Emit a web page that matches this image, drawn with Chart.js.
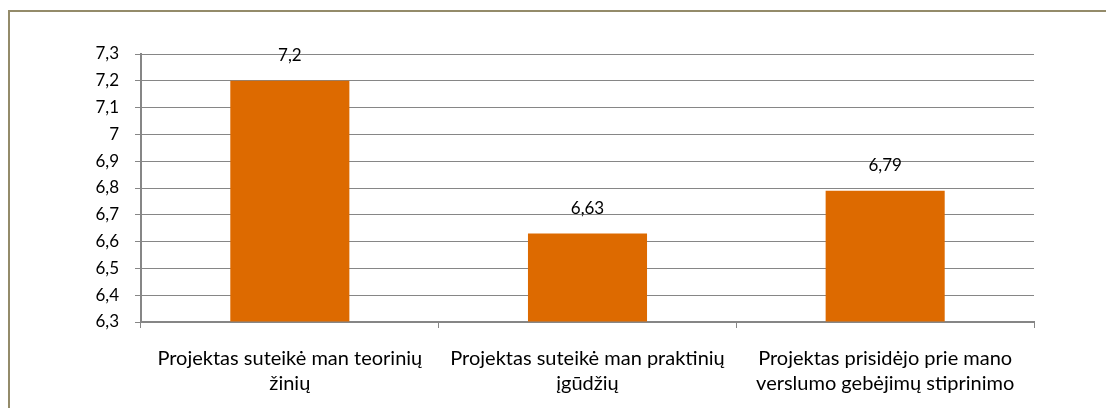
<!DOCTYPE html>
<html>
<head>
<meta charset="utf-8">
<script src="https://cdn.jsdelivr.net/npm/chart.js@4/dist/chart.umd.min.js"></script>
<style>
  html, body { margin: 0; padding: 0; background: #fff; }
  #wrap { position: relative; width: 1106px; height: 408px; overflow: hidden; }
  #frame { position: absolute; left: 8px; top: 10px; width: 1120px; height: 420px;
           border-left: 2px solid #948b6a; border-top: 2px solid #948b6a; }
  canvas { position: absolute; left: 0; top: 0; }
</style>
</head>
<body>
<div id="wrap">
  <div id="frame"></div>
  <canvas id="barChart" width="1106" height="408"></canvas>
</div>
<script>
// data
const categories = [
  ["Projektas suteikė man teorinių", "žinių"],
  ["Projektas suteikė man praktinių", "įgūdžių"],
  ["Projektas prisidėjo prie mano", "verslumo gebėjimų stiprinimo"],
];
const values = [7.2, 6.63, 6.79];
const valueLabels = ["7,2", "6,63", "6,79"];

const FONT = "Lato, 'DejaVu Sans', sans-serif";

// draws the value above each bar
const valueLabelPlugin = {
  id: "valueLabels",
  afterDatasetsDraw(chart) {
    const ctx = chart.ctx;
    const meta = chart.getDatasetMeta(0);
    ctx.save();
    ctx.font = "17px " + FONT;
    ctx.fillStyle = "#000";
    ctx.textAlign = "center";
    ctx.textBaseline = "middle";
    meta.data.forEach((bar, i) => {
      ctx.fillText(valueLabels[i], bar.x, bar.y - 25);
    });
    ctx.restore();
  },
};

const ctx = document.getElementById("barChart").getContext("2d");
new Chart(ctx, {
  type: "bar",
  data: {
    labels: categories,
    datasets: [{
      data: values,
      backgroundColor: "#dd6a00",
      barPercentage: 0.4,
      categoryPercentage: 1,
      base: 6.3,
    }],
  },
  options: {
    responsive: false,
    animation: false,
    layout: { padding: { left: 0, top: 54, right: 72, bottom: 0 } },
    plugins: { legend: { display: false }, tooltip: { enabled: false } },
    scales: {
      y: {
        min: 6.3,
        max: 7.3,
        afterFit(scale) { scale.width = 141; },
        ticks: {
          stepSize: 0.1,
          padding: 16,
          color: "#000",
          font: { family: FONT, size: 17 },
          callback: (v) => String(Math.round(v * 10) / 10).replace(".", ","),
        },
        grid: { color: "#868686", lineWidth: 1, tickLength: 6 },
        border: { color: "#868686", width: 2 },
      },
      x: {
        afterFit(scale) { scale.height = 408 - 322; },
        ticks: {
          padding: 18,
          color: "#000",
          maxRotation: 0,
          font: { family: FONT, size: 20, lineHeight: 1.25 },
        },
        grid: { display: true, drawOnChartArea: false, offset: true, color: "#868686", tickLength: 6 },
        border: { color: "#868686", width: 2 },
      },
    },
  },
  plugins: [valueLabelPlugin],
});
</script>
</body>
</html>
